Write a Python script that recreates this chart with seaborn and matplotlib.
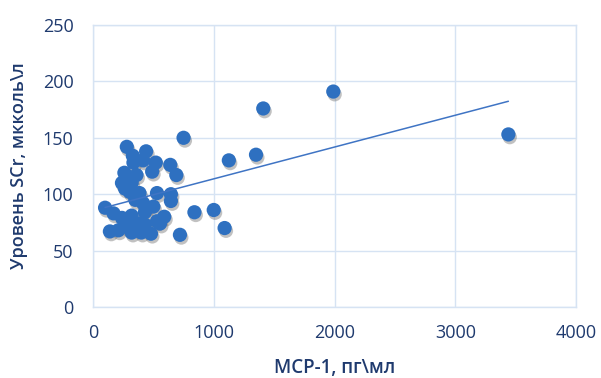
import matplotlib
matplotlib.use("Agg")
import matplotlib.pyplot as plt
import matplotlib.patheffects as pe
import seaborn as sns
import numpy as np
import pandas as pd

mcp1 = [3440, 1990, 1410, 1350, 1125, 750, 1000, 840, 1090, 720,
        280, 440, 330, 415, 335, 520, 640, 490, 260, 360,
        690, 240, 320, 305, 385, 530, 645, 645, 100, 170,
        415, 500, 430, 240, 320, 390, 530, 590, 555, 140,
        210, 320, 400, 480, 280, 335, 430, 265, 350]
scr = [153, 191, 176, 135, 130, 150, 86, 84, 70, 64,
       142, 138, 134, 130, 128, 128, 126, 120, 119, 117,
       117, 110, 110, 102, 101, 101, 100, 94, 88, 83,
       92, 89, 84, 79, 81, 74, 76, 80, 74, 67,
       68, 66, 66, 65, 71, 71, 73, 105, 95]

xlabel = "MCP-1, пг\\мл"
ylabel = "Уровень SCr, мкколь\\л"
xticks = [0, 1000, 2000, 3000, 4000]
yticks = [0, 50, 100, 150, 200, 250]

df = pd.DataFrame({"x": mcp1, "y": scr})

sns.set_style("white")
plt.rcParams['font.family'] = ['Open Sans', 'DejaVu Sans']

navy = "#1F3A6E"
grid = "#D6E3F3"
blue = "#2E70C0"

fig = plt.figure(figsize=(6.01, 3.78), dpi=100)
ax = fig.add_axes([93/601, 1-307/378, (576-93)/601, (307-25)/378])

sns.regplot(data=df, x="x", y="y", ax=ax, ci=None, truncate=True,
            scatter_kws=dict(s=105, color=blue, edgecolor="none", alpha=1, zorder=3),
            line_kws=dict(color="#3F74C4", lw=1.1, zorder=4))
coll = ax.collections[0]
coll.set_path_effects([pe.SimplePatchShadow(offset=(1.0, -2.0), shadow_rgbFace="#666666", alpha=0.4), pe.Normal()])

ax.set_xlim(0, 4000)
ax.set_ylim(0, 250)
ax.set_xticks(xticks)
ax.set_yticks(yticks)
ax.grid(True, color=grid, lw=1)
ax.set_axisbelow(True)
for s in ax.spines.values():
    s.set_color(grid)
    s.set_linewidth(1)
ax.tick_params(axis="both", length=0, labelsize=13, labelcolor=navy)
ax.tick_params(axis="y", pad=14)
ax.tick_params(axis="x", pad=12)
ax.set_xlabel(xlabel, fontsize=13.5, color=navy, fontweight="semibold", labelpad=12)
ax.set_ylabel(ylabel, fontsize=13, color=navy, fontweight="semibold", labelpad=11)

fig.savefig("out.png", dpi=100)
